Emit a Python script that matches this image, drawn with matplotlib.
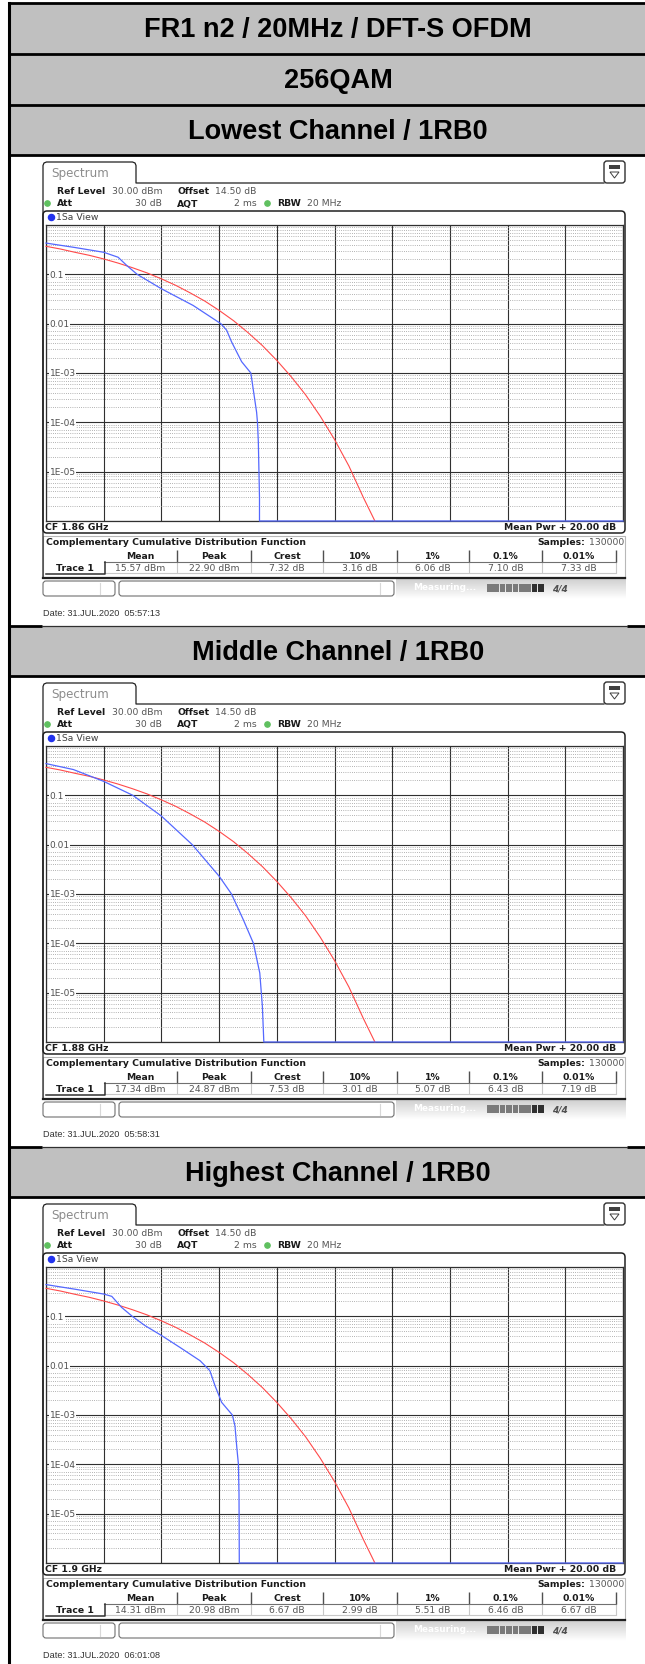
import numpy as np
import matplotlib
matplotlib.use("Agg")
import matplotlib.pyplot as plt
from matplotlib.patches import Rectangle, FancyBboxPatch, Polygon
from matplotlib.ticker import LogLocator

# ------------------------------ data ------------------------------

band_titles = ["FR1 n2 / 20MHz / DFT-S OFDM", "256QAM"]
chan_titles = ["Lowest Channel / 1RB0", "Middle Channel / 1RB0", "Highest Channel / 1RB0"]
cf_labels = ["CF 1.86 GHz", "CF 1.88 GHz", "CF 1.9 GHz"]
dates = ["Date: 31.JUL.2020  05:57:13", "Date: 31.JUL.2020  05:58:31", "Date: 31.JUL.2020  06:01:08"]

table_heads = ["Mean", "Peak", "Crest", "10%", "1%", "0.1%", "0.01%"]
vals_low = ["15.57 dBm", "22.90 dBm", "7.32 dB", "3.16 dB", "6.06 dB", "7.10 dB", "7.33 dB"]
vals_mid = ["17.34 dBm", "24.87 dBm", "7.53 dB", "3.01 dB", "5.07 dB", "6.43 dB", "7.19 dB"]
vals_high = ["14.31 dBm", "20.98 dBm", "6.67 dB", "2.99 dB", "5.51 dB", "6.46 dB", "6.67 dB"]

y_labels = ["0.1", "0.01", "1E-03", "1E-04", "1E-05"]
y_label_vals = [1e-1, 1e-2, 1e-3, 1e-4, 1e-5]

# measured CCDF traces (dB above mean power, probability)
low_db = [0.00, 1.00, 2.00, 2.50, 2.80, 3.16, 4.00, 5.10, 6.06, 6.26, 6.43, 6.78, 7.10, 7.30, 7.33, 7.36, 7.40, 7.40, 20.0]
low_p = [0.43, 0.35, 0.28, 0.222, 0.151, 0.100, 0.051, 0.0234, 0.0100, 0.0074, 0.0043, 0.0017, 1.0e-3, 1.6e-4, 1.0e-4, 4.0e-5, 3.0e-6, 1e-6, 1e-6]

mid_db = [0.00, 0.95, 1.99, 3.01, 4.00, 5.07, 6.00, 6.43, 6.84, 7.19, 7.41, 7.50, 7.55, 20.0]
mid_p = [0.44, 0.333, 0.193, 0.100, 0.038, 0.0100, 0.0023, 1.0e-3, 3.0e-4, 1.0e-4, 2.5e-5, 5.3e-6, 1e-6, 1e-6]

high_db = [0.00, 1.00, 2.00, 2.28, 2.62, 2.99, 3.43, 4.00, 4.64, 5.34, 5.51, 5.68, 5.86, 6.09, 6.46, 6.55, 6.62, 6.67, 6.69, 6.70, 20.0]
high_p = [0.44, 0.355, 0.283, 0.254, 0.152, 0.100, 0.065, 0.041, 0.0235, 0.0126, 0.0100, 0.0079, 0.0039, 0.0018, 1.0e-3, 6.0e-4, 2.0e-4, 1.0e-4, 2.5e-5, 1e-6, 1e-6]

# gaussian reference trace (red)
ref_db = [0.0, 0.5, 1.0, 1.5, 2.0, 2.5, 3.0, 3.5, 4.0, 4.5, 5.0, 5.5, 6.0, 6.5, 7.0, 7.5, 8.0, 8.5, 9.0, 9.5, 10.0, 10.5, 11.0, 11.4]
ref_p = [0.37, 0.326, 0.28, 0.243, 0.205, 0.169, 0.136, 0.107, 0.081, 0.0597, 0.042, 0.0288, 0.0186,
         0.0115, 0.0066, 0.0036, 0.0018, 8.4e-4, 3.6e-4, 1.35e-4, 4.5e-5, 1.3e-5, 3.0e-6, 1e-6]

traces = [(low_db, low_p, vals_low), (mid_db, mid_p, vals_mid), (high_db, high_p, vals_high)]

# ------------------------------ layout ------------------------------

W, H = 645, 1665
fig = plt.figure(figsize=(W / 100, H / 100), dpi=100)
fig.patch.set_facecolor("white")

ov = fig.add_axes([0, 0, 1, 1])
ov.set_xlim(0, W)
ov.set_ylim(H, 0)
ov.axis("off")
ov.set_autoscale_on(False)

FS = 6.7
DARK = "#1a1a1a"
GREY = "#555555"
TITLE_FONT = ["Liberation Sans", "DejaVu Sans"]

bands = [(4, 55, band_titles[0]), (55, 106, band_titles[1]), (106, 156, chan_titles[0]),
         (627, 677, chan_titles[1]), (1148, 1198, chan_titles[2])]
panel_tops = [156, 677, 1198]

for y0, y1, txt in bands:
    ov.add_patch(Rectangle((8, y0), W, y1 - y0, fc="#c0c0c0", ec="none", zorder=0))
    ov.text(338, (y0 + y1) / 2 + 1, txt, ha="center", va="center", fontsize=19.5,
            weight="bold", family=TITLE_FONT, color="black", zorder=3)

# thick cell borders
for y in [4, 55, 106, 156, 677, 1198]:
    ov.plot([8, W], [y, y], color="black", lw=2.0, zorder=4, solid_capstyle="butt")
for y in [627, 1148]:
    ov.plot([8, 42], [y, y], color="black", lw=2.0, zorder=4, solid_capstyle="butt")
    ov.plot([627, W], [y, y], color="black", lw=2.0, zorder=4, solid_capstyle="butt")
    ov.plot([42, 627], [y, y], color="#303030", lw=0.9, zorder=4)
ov.plot([8.5, 8.5], [4, H], color="black", lw=2.2, zorder=4)


def draw_panel(k):
    t = panel_tops[k]
    xs_db, ps, vals = traces[k]

    # tab + outer rule
    ov.plot([43, 43, 44, 46.5, 132.5, 135, 136, 136, 604],
            [t + 423, t + 10.5, t + 8, t + 7, t + 7, t + 8, t + 10.5, t + 28, t + 28],
            color="#202020", lw=0.9, zorder=2)
    ov.text(51, t + 18, "Spectrum", fontsize=8.6, color="#8c8c8c", va="center", zorder=3)
    ov.add_patch(FancyBboxPatch((604, t + 6), 21, 22, boxstyle="round,pad=0,rounding_size=3",
                                fc="white", ec="#303030", lw=1.0, zorder=3))
    ov.add_patch(Rectangle((609, t + 10), 11, 4, fc="#404040", ec="none", zorder=4))
    ov.add_patch(Polygon([(610, t + 17), (619, t + 17), (614.5, t + 23)], closed=True,
                         fc="white", ec="#404040", lw=0.7, zorder=4))

    # setting rows
    ov.text(57, t + 36, "Ref Level", fontsize=FS, weight="bold", color=DARK, va="center")
    ov.text(162, t + 36, "30.00 dBm", fontsize=FS, color=GREY, va="center", ha="right")
    ov.text(177, t + 36, "Offset", fontsize=FS, weight="bold", color=DARK, va="center")
    ov.text(215, t + 36, "14.50 dB", fontsize=FS, color=GREY, va="center")
    ov.plot([47], [t + 48], "o", ms=3.8, color="#5fc05f", zorder=3)
    ov.text(57, t + 48, "Att", fontsize=FS, weight="bold", color=DARK, va="center")
    ov.text(162, t + 48, "30 dB", fontsize=FS, color=GREY, va="center", ha="right")
    ov.text(177, t + 48, "AQT", fontsize=FS, weight="bold", color=DARK, va="center")
    ov.text(257, t + 48, "2 ms", fontsize=FS, color=GREY, va="center", ha="right")
    ov.plot([267], [t + 48], "o", ms=3.8, color="#5fc05f", zorder=3)
    ov.text(277, t + 48, "RBW", fontsize=FS, weight="bold", color=DARK, va="center")
    ov.text(307, t + 48, "20 MHz", fontsize=FS, color=GREY, va="center")

    # view frame
    ov.add_patch(FancyBboxPatch((43, t + 56), 582, 322, boxstyle="round,pad=0,rounding_size=4",
                                fc="white", ec="#202020", lw=1.1, zorder=1))
    ov.plot([51], [t + 62], "o", ms=4.4, color="#2233ee", zorder=3)
    ov.text(56, t + 62, "1Sa View", fontsize=FS, color="#404040", va="center")
    ov.text(45, t + 372, cf_labels[k], fontsize=FS, weight="bold", color=DARK, va="center")
    ov.text(616, t + 372, "Mean Pwr + 20.00 dB", fontsize=FS, weight="bold", color=DARK,
            va="center", ha="right")

    # ccdf diagram
    ax = fig.add_axes([46 / W, 1 - (t + 366) / H, 577 / W, 296 / H], zorder=2)
    ax.set_yscale("log")
    ax.set_xlim(0, 20)
    ax.set_ylim(1e-6, 1)
    ax.set_xticks(np.arange(0, 21, 2))
    ax.set_yticks([10.0 ** e for e in range(-6, 1)])
    ax.yaxis.set_minor_locator(LogLocator(base=10, subs=np.arange(2, 10), numticks=20))
    ax.tick_params(which="both", length=0, labelleft=False, labelbottom=False)
    ax.grid(which="major", color="#303030", lw=0.8)
    ax.grid(which="minor", axis="y", color="#9a9a9a", lw=0.6, ls=(0, (1, 1.6)))
    for s in ax.spines.values():
        s.set_color("#303030")
        s.set_linewidth(0.9)
    for v, s in zip(y_label_vals, y_labels):
        ax.text(0.12, v, s, fontsize=6.5, color="#505050", va="center", ha="left", zorder=6,
                bbox=dict(fc="white", ec="none", pad=0.6))
    ax.plot(ref_db, ref_p, color="#ff4a4a", lw=0.8, zorder=4, clip_on=False)
    ax.plot(xs_db, ps, color="#5468ff", lw=0.9, zorder=5, clip_on=False)

    # statistics table
    ov.add_patch(Rectangle((43, t + 381), 582, 42, fc="white", ec="#b8b8b8", lw=0.8, zorder=1))
    ov.text(46, t + 387, "Complementary Cumulative Distribution Function", fontsize=FS,
            weight="bold", color=DARK, va="center", zorder=3)
    ov.text(585, t + 387, "Samples:", fontsize=FS, weight="bold", color=DARK, va="center",
            ha="right", zorder=3)
    ov.text(589, t + 387, "130000", fontsize=FS, color=GREY, va="center", zorder=3)
    edges = [104, 177, 251, 323, 397, 469, 542, 616]
    for i, (h, v) in enumerate(zip(table_heads, vals)):
        cx = (edges[i] + edges[i + 1]) / 2
        ov.text(cx, t + 401, h, fontsize=FS, weight="bold", color=DARK, ha="center", va="center", zorder=3)
        ov.text(cx, t + 413, v, fontsize=FS, color=GREY, ha="center", va="center", zorder=3)
    ov.vlines(edges[1:], t + 395, t + 407, color="#505050", lw=1.0, zorder=3)
    ov.vlines(edges[1:], t + 407, t + 418, color="#c8c8c8", lw=0.8, zorder=3)
    ov.plot([104, 616], [t + 407, t + 407], color="#707070", lw=0.8, zorder=3)
    ov.plot([104, 616], [t + 418, t + 418], color="#c8c8c8", lw=0.8, zorder=3)
    ov.text(75, t + 413, "Trace 1", fontsize=FS, weight="bold", color=DARK, ha="center",
            va="center", zorder=3)
    ov.plot([46, 104.5, 104.5], [t + 419, t + 419, t + 407], color="#303030", lw=1.1, zorder=3)
    ov.plot([43, 625], [t + 423, t + 423], color="#202020", lw=1.6, zorder=3)

    # status bar
    ov.add_patch(FancyBboxPatch((43, t + 426), 72, 15, boxstyle="round,pad=0,rounding_size=3",
                                fc="white", ec="#707070", lw=0.8, zorder=3))
    ov.plot([100, 100], [t + 428, t + 439], color="#d8d8d8", lw=0.8, zorder=4)
    ov.add_patch(FancyBboxPatch((119, t + 426), 275, 15, boxstyle="round,pad=0,rounding_size=3",
                                fc="white", ec="#707070", lw=0.8, zorder=3))
    ov.plot([380, 380], [t + 428, t + 439], color="#d8d8d8", lw=0.8, zorder=4)
    grad = np.linspace(0.82, 1.0, 24)[:, None] * np.ones((1, 60))
    ov.imshow(grad, extent=(396, 626, t + 444, t + 424), cmap="gray", vmin=0, vmax=1,
              aspect="auto", zorder=2, interpolation="bilinear")
    ov.text(413, t + 432, "Measuring...", fontsize=6.4, weight="bold", color="white",
            va="center", zorder=3)
    for j in range(9):
        c = "#303030" if j >= 7 else "#7a7a7a"
        ov.add_patch(Rectangle((487 + j * 6.4, t + 429), 5.6, 8, fc=c, ec="none", zorder=3))
    ov.text(552, t + 433, "4/4", fontsize=6.5, weight="bold", style="italic", color="#505050",
            va="center", zorder=3)

    ov.text(43, t + 458, dates[k], fontsize=6.6, family=TITLE_FONT, color="#333333", va="center")


for k in range(3):
    draw_panel(k)

ov.set_xlim(0, W)
ov.set_ylim(H, 0)

fig.savefig("out.png", dpi=100, facecolor="white")
